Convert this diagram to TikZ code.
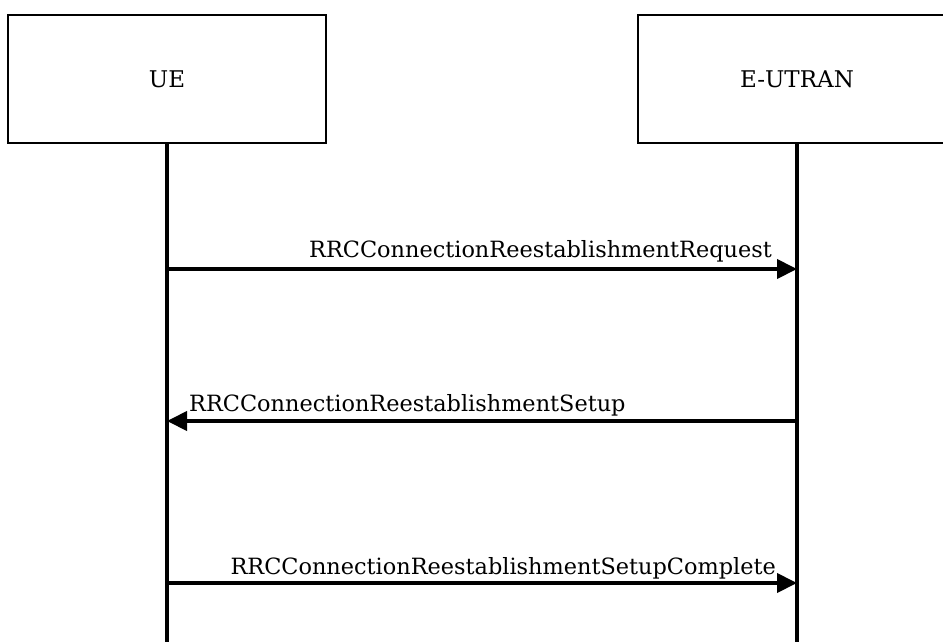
\documentclass[tikz,border=0pt]{standalone}
\usepackage{fontspec}
\setmainfont{DejaVu Serif}
\usetikzlibrary{arrows.meta}
\tikzset{
  entity/.style={draw, line width=2.5pt, minimum width=318pt, minimum height=128pt, inner sep=0pt, font=\fontsize{23}{26}\selectfont},
  life/.style={line width=4pt},
  msg/.style={line width=4pt, -{Triangle[length=20pt 0, width=19pt 0]}},
  lbl/.style={inner sep=0pt, font=\fontsize{22.4}{25}\selectfont}
}
\begin{document}
\begin{tikzpicture}[x=1pt,y=-1pt]
\useasboundingbox (0,0) rectangle (943,641);
\clip (0,0) rectangle (943,641);
\node[entity] (ue) at (167,79) {UE};
\node[entity] (enb) at (797,79) {E-UTRAN};
\coordinate (ueb) at (167,645);
\coordinate (enbb) at (797,645);
\draw[life] (ue.south) -- (ueb);
\draw[life] (enb.south) -- (enbb);
\coordinate (u1) at (167,269);
\coordinate (e1) at (797,269);
\coordinate (u2) at (167,421);
\coordinate (e2) at (797,421);
\coordinate (u3) at (167,583);
\coordinate (e3) at (797,583);
\draw[msg] (u1) -- (e1);
\draw[msg] (e2) -- (u2);
\draw[msg] (u3) -- (e3);
\node[lbl, anchor=base east] (l1) at (772,257) {RRCConnectionReestablishmentRequest};
\node[lbl, anchor=base west] (l2) at (189,411) {RRCConnectionReestablishmentSetup};
\node[lbl, anchor=base east] (l3) at (776,574) {RRCConnectionReestablishmentSetupComplete};
\end{tikzpicture}
\end{document}
